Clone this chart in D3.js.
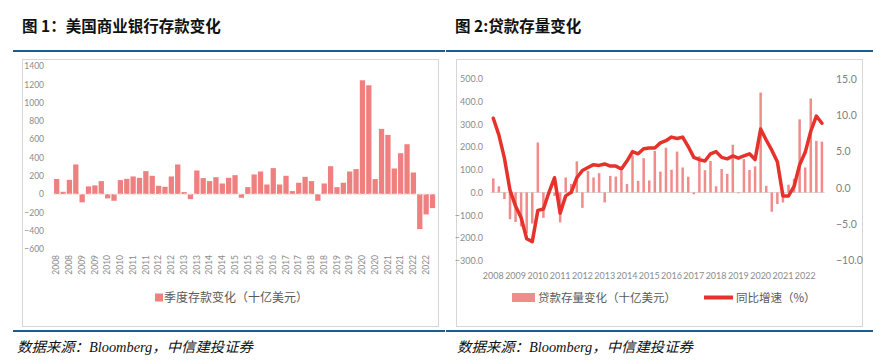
<!DOCTYPE html>
<html><head><meta charset="utf-8">
<script src="https://cdn.jsdelivr.net/npm/d3@7"></script>
<style>body{margin:0;background:#fff;} svg{display:block;}</style>
</head><body><svg id="c" width="888" height="364"></svg>
<script>
// ---------- data ----------
const years = [2008,2009,2010,2011,2012,2013,2014,2015,2016,2017,2018,2019,2020,2021,2022];
const quarters = years.flatMap(y => ["Q1","Q2","Q3","Q4"].map(q => y + q));
// Figure 1: quarterly change in US commercial bank deposits (USD bn)
const depositChange = [165,25,156,324,-90,84,95,142,-47,-73,
  153,167,193,178,251,200,91,80,193,324,
  22,-55,258,175,142,185,116,178,207,-40,
  76,215,247,105,284,105,200,33,124,189,
  142,-73,116,305,76,124,247,273,1244,1189,
  164,713,647,280,447,545,236,-382,-222,-153];
// Figure 2: change in loan stock (USD bn) and YoY growth (%)
const loanChange = [62,27,-29,-118,-130,-150,-180,-137,220,-112,
  -5,-15,-132,66,37,137,-68,95,66,85,
  -44,73,70,95,37,163,51,151,53,183,
  92,197,100,180,110,69,-8,160,98,138,
  27,103,82,210,-4,147,99,115,440,29,
  -85,-51,-44,34,60,322,110,414,227,224];
const loanYoY = [9.6,7.3,4.1,-0.3,-2.5,-4.1,-7.0,-7.4,-3.1,-2.9,
  -0.6,1.4,-3.5,-1.1,-0.6,1.4,2.4,2.8,3.2,3.1,
  3.3,3.0,3.0,2.6,3.7,5.0,4.7,5.4,5.5,5.5,
  6.2,6.5,7.0,6.8,7.0,5.7,4.2,3.9,3.7,4.7,
  5.0,4.2,4.0,4.4,4.1,4.4,4.7,3.9,8.1,6.6,
  5.2,3.6,-1.1,-1.1,0.2,3.2,4.9,7.8,9.9,8.9];
const depTicks = [-600,-400,-200,0,200,400,600,800,1000,1200,1400];
const loanTicks = [-300,-200,-100,0,100,200,300,400,500];
const yoyTicks = [-10,-5,0,5,10,15];
const depTickQuarters = quarters.filter((q,i) => i % 2 === 0);
const loanTickQuarters = quarters.filter(q => q.endsWith("Q1"));
const titles = ["图 1：美国商业银行存款变化", "图 2:贷款存量变化"];
const legendDep = "季度存款变化（十亿美元）";
const legendLoan = "贷款存量变化（十亿美元）";
const legendYoY = "同比增速（%）";
const sourceText = "数据来源：Bloomberg，中信建投证券";

// ---------- styles ----------
const barColor = "#ef8080";
const barColor2 = "#f08c8c";
const lineColor = "#e5322a";
const tickColor = "#8c8c8c";
const blue = "#1f5b8c";
const cjk = "'Noto Sans CJK SC', sans-serif";
const num = "Lato, 'Liberation Sans', sans-serif";

const svg = d3.select("#c");
svg.append("rect").attr("width",888).attr("height",364).attr("fill","#fff");

// titles
[[22,titles[0]],[455,titles[1]]].forEach(([x,t]) => {
  svg.append("text").attr("x",x).attr("y",32).text(t)
    .attr("font-family",cjk).attr("font-weight","bold").attr("font-size",15.5).attr("fill","#111");
});
// blue rules
[[13,445,51],[446,873,51],[13,445,331],[446,873,331]].forEach(([x1,x2,y]) => {
  svg.append("line").attr("x1",x1).attr("x2",x2).attr("y1",y).attr("y2",y)
    .attr("stroke",blue).attr("stroke-width",2);
});
// chart boxes
[[22.5,59.5,416,267],[456.5,59.5,406,267]].forEach(([x,y,w,h]) => {
  svg.append("rect").attr("x",x).attr("y",y).attr("width",w).attr("height",h)
    .attr("fill","#fff").attr("stroke","#d6d6d6").attr("stroke-width",1);
});
// source texts
[[17,457]].flat().forEach(x => {
  svg.append("text").attr("x",x).attr("y",352).text(sourceText)
    .attr("font-family","'Liberation Serif', 'Noto Sans CJK SC', serif").attr("font-style","italic")
    .attr("font-size",14).attr("fill","#111")
    .attr("textLength",236).attr("lengthAdjust","spacingAndGlyphs");
});

// ---------- Figure 1 ----------
const xL = d3.scaleBand().domain(quarters).range([53.5, 53.5 + 60*6.37]).paddingInner(0.17).paddingOuter(0.085);
const yL = d3.scaleLinear().domain([-600,1400]).range([249,66]);
const g1 = svg.append("g");
g1.selectAll("rect.bar").data(depositChange).join("rect").attr("class","bar")
  .attr("x",(d,i) => xL(quarters[i])).attr("width",xL.bandwidth())
  .attr("y",d => yL(Math.max(0,d))).attr("height",d => Math.abs(yL(d)-yL(0)))
  .attr("fill",barColor);
g1.append("line").attr("x1",xL.range()[0]).attr("x2",xL.range()[1])
  .attr("y1",yL(0)).attr("y2",yL(0)).attr("stroke","#f4dada").attr("stroke-width",1.2)
  .attr("stroke-dasharray","3,2");
const ay1 = g1.append("g").attr("transform","translate(47,0)")
  .call(d3.axisLeft(yL).tickValues(depTicks).tickSize(0).tickPadding(3).tickFormat(d3.format("d")));
ay1.select(".domain").remove();
ay1.selectAll("text").attr("font-family",num).attr("font-size",8.5).attr("fill",tickColor);
const ax1 = g1.append("g").attr("transform","translate(0,253)")
  .call(d3.axisBottom(xL).tickValues(depTickQuarters).tickSize(0).tickFormat(q => q.slice(0,4)));
ax1.select(".domain").remove();
ax1.selectAll("text").attr("transform","rotate(-90)").attr("text-anchor","end")
  .attr("x",-2).attr("y",0).attr("dy","0.32em")
  .attr("font-family",num).attr("font-size",8.5).attr("fill",tickColor);
// legend
g1.append("rect").attr("x",155).attr("y",293.5).attr("width",8).attr("height",8).attr("fill",barColor);
g1.append("text").attr("x",164).attr("y",302).text(legendDep)
  .attr("font-family",cjk).attr("font-size",12).attr("fill","#595959");

// ---------- Figure 2 ----------
const xR = d3.scaleBand().domain(quarters).range([490.5, 490.5 + 60*5.57]).paddingInner(0.55).paddingOuter(0.275);
const yR = d3.scaleLinear().domain([-300,500]).range([260.5,79]);
const yY = d3.scaleLinear().domain([-10,15]).range([260.5,79]);
const g2 = svg.append("g");
g2.append("line").attr("x1",xR.range()[0]).attr("x2",xR.range()[1])
  .attr("y1",yR(0)).attr("y2",yR(0)).attr("stroke","#d9d9d9").attr("stroke-width",1);
g2.selectAll("rect.bar").data(loanChange).join("rect").attr("class","bar")
  .attr("x",(d,i) => xR(quarters[i])).attr("width",xR.bandwidth())
  .attr("y",d => yR(Math.max(0,d))).attr("height",d => Math.abs(yR(d)-yR(0)))
  .attr("fill",barColor2);
const line = d3.line().x((d,i) => xR(quarters[i]) + xR.bandwidth()/2).y(d => yY(d));
g2.append("path").datum(loanYoY).attr("d",line).attr("fill","none")
  .attr("stroke",lineColor).attr("stroke-width",3.5).attr("stroke-linejoin","round").attr("stroke-linecap","round");
const ay2 = g2.append("g").attr("transform","translate(486,0)")
  .call(d3.axisLeft(yR).tickValues(loanTicks).tickSize(0).tickPadding(3).tickFormat(d3.format(".1f")));
ay2.select(".domain").remove();
ay2.selectAll("text").attr("font-family",num).attr("font-size",9).attr("fill",tickColor);
const ay3 = g2.append("g").attr("transform","translate(833,0)")
  .call(d3.axisRight(yY).tickValues(yoyTicks).tickSize(0).tickPadding(3).tickFormat(d3.format(".1f")));
ay3.select(".domain").remove();
ay3.selectAll("text").attr("font-family",num).attr("font-size",10.5).attr("fill","#7f7f7f");
const ax2 = g2.append("g").attr("transform","translate(0,276)")
  .call(d3.axisBottom(xR).tickValues(loanTickQuarters).tickSize(0).tickFormat(q => q.slice(0,4)));
ax2.select(".domain").remove();
ax2.selectAll("text").attr("y",0).attr("dy","0.35em")
  .attr("font-family",num).attr("font-size",9).attr("fill",tickColor);
// legend
g2.append("rect").attr("x",512).attr("y",293).attr("width",23).attr("height",9).attr("fill",barColor2);
g2.append("text").attr("x",538).attr("y",302).text(legendLoan)
  .attr("font-family",cjk).attr("font-size",11.5).attr("fill","#595959");
g2.append("line").attr("x1",704).attr("x2",733).attr("y1",297.5).attr("y2",297.5)
  .attr("stroke",lineColor).attr("stroke-width",4);
g2.append("text").attr("x",736).attr("y",302).text(legendYoY)
  .attr("font-family",cjk).attr("font-size",11.5).attr("fill","#595959");
</script></body></html>
